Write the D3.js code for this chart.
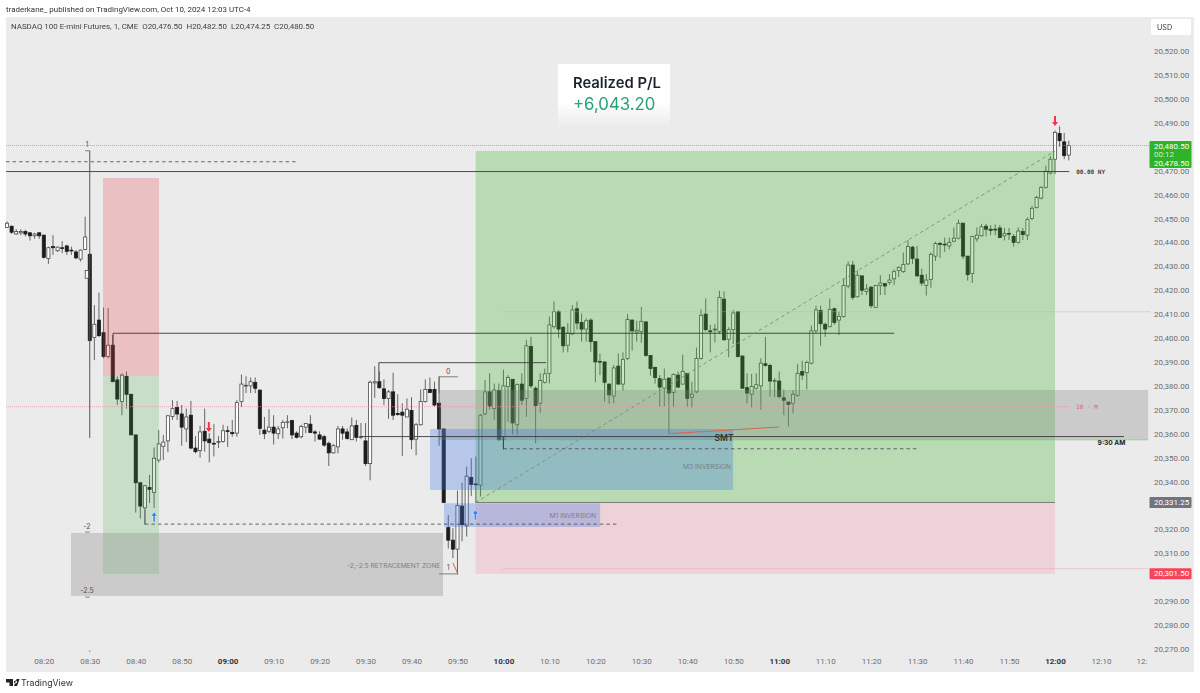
<!DOCTYPE html>
<html>
<head>
<meta charset="utf-8">
<script src="https://cdn.jsdelivr.net/npm/d3@7"></script>
<style>
  html, body { margin: 0; padding: 0; background: #fff; }
  svg { display: block; font-family: Inter, "Noto Sans", sans-serif; filter: blur(0.3px); }
</style>
</head>
<body>
<svg id="chart" width="1200" height="693"></svg>
<script>
// 1 minute candles [open, high, low, close], first one is 08:12
const firstMinute = 492;
const candles0812 = [
  [20446.25,20448.75,20446,20448],[20446.75,20447,20443.5,20444.25],[20443.5,20445.5,20443.25,20444.5],[20444,20445.5,20443,20444.5],
  [20444.5,20445.25,20442.5,20443.5],[20444,20444.25,20440.75,20442.75],[20442.75,20444,20441.5,20443.5],[20444,20444.25,20441.5,20442.75],
  [20443,20443.25,20433.25,20433.75],[20433.25,20438.25,20431,20437.75],[20438.25,20443,20434.75,20437.75],[20436.5,20438.25,20436,20438],
  [20437.75,20440.5,20435.5,20437.5],[20438.5,20439,20434.75,20436.25],[20436.75,20438.25,20434.75,20436.5],[20436,20436.75,20433,20433.5],
  [20433,20437,20432,20436.75],[20437,20450.75,20436.75,20442.25],[20435,20435.5,20398.5,20399],[20400.25,20413.75,20390.75,20405.75],
  [20407.5,20419,20400.5,20401],[20402.25,20412.75,20391.5,20392.25],[20392.25,20412.5,20391.5,20397],[20397,20401.25,20381.75,20381.75],
  [20382.5,20384,20372,20374.5],[20373.5,20385.25,20367.75,20384.5],[20384,20386,20370.5,20376.5],[20376.5,20376.5,20359.5,20359.5],
  [20359.5,20359.5,20327,20339.5],[20339.5,20339.5,20324.5,20329.75],[20329,20338.5,20322,20338.25],[20337.5,20342.75,20331,20336.75],
  [20335.5,20354.25,20329,20349.75],[20349,20361.5,20348,20355.75],[20354.75,20359.5,20349,20356.5],[20357,20367.75,20352.25,20367.5],
  [20367.25,20374,20365.75,20370.5],[20371,20373.75,20365.75,20368.25],[20368.25,20372,20355,20362.75],[20362,20370.5,20356.5,20367],
  [20367.75,20373.75,20353.5,20354],[20354,20359,20351.75,20352.5],[20353,20363.25,20350,20360.75],[20361,20370.5,20352.5,20357],
  [20357.75,20360.25,20348,20356.25],[20356,20364,20350.5,20355.75],[20356.5,20359,20354,20356.75],[20356.75,20363.75,20356.25,20361.25]
];
const candles0900 = [
  [20361.25,20363.25,20354.5,20361],[20360.5,20365.75,20358.75,20360],[20360.25,20374,20358.75,20373],[20373.5,20384.75,20371.25,20380.75],
  [20380,20384,20377,20380.25],[20380,20383.5,20377,20381.75],[20381.5,20383.5,20377,20379],[20378.25,20378.25,20359.5,20362.25],
  [20361.5,20367,20357.75,20360],[20361,20370.25,20360.25,20362.75],[20362.75,20367.75,20355.5,20360.25],[20360,20363.25,20357.75,20362],
  [20362.5,20365.75,20358,20364.75],[20364.75,20367.75,20362.25,20365],[20365.5,20365.75,20357.75,20359.5],[20360.25,20361,20358,20358.5],
  [20358.75,20363.75,20358,20363],[20362.75,20364.5,20360.25,20364.25],[20364,20367.75,20360.25,20360.5],[20360.75,20361.5,20356.75,20360.25],
  [20359.5,20361,20357.5,20357.75],[20358.75,20359.5,20354.5,20355.25],[20356,20356.75,20346.5,20352],[20352,20355.75,20351.75,20355],
  [20354.5,20363.25,20351.75,20362],[20362,20363.25,20357.5,20360.25],[20360.75,20362.25,20357.5,20358],[20357.5,20366.75,20357.5,20363.25],
  [20363.5,20365.75,20356.75,20358.5],[20358.5,20364.5,20357.75,20358.75],[20357,20364.5,20346.5,20347.5],[20347.5,20382.25,20340.5,20381.5],
  [20381.25,20388.25,20375,20381.75],[20381.75,20386,20378.75,20379.25],[20378.75,20382.75,20372,20374.75],[20374.75,20378.25,20366.25,20377.5],
  [20377.5,20385.5,20365.75,20367.75],[20368.5,20376.5,20367.5,20368],[20369,20372.75,20350.75,20367.75],[20367,20374.75,20367,20370.25],
  [20369.75,20375.25,20353.5,20357.5],[20357.75,20364.5,20351,20363.75],[20363.75,20378.5,20363.5,20373.5],[20373.5,20382.75,20373,20378.5],
  [20378.5,20383.5,20377,20377.25],[20378.5,20381.75,20371.25,20372],[20372.75,20384,20355,20362],[20362,20362,20331,20331.25],
  [20320.75,20326,20312,20315.5],[20315.5,20320.5,20308,20311.75],[20311.75,20336.25,20301.25,20330],[20329.75,20339.5,20315,20322],
  [20321.5,20346.25,20317,20342.25],[20341.75,20349.75,20334,20338.75],[20339,20350.5,20331.25,20338.75],[20338.5,20368.25,20333.75,20367.75],
  [20368.25,20382.5,20367.75,20377.5],[20377.5,20385.25,20370,20371.5],[20370.5,20381,20365.75,20378.25],[20378,20381,20357,20357.5]
];
const candles1000 = [
  [20357.5,20386.75,20353.25,20380],[20379.75,20384.5,20365,20383.5],[20382.75,20382.75,20359.75,20364.5],[20363.75,20381,20359.5,20380.5],
  [20380.75,20385.25,20372,20374],[20374.75,20399.25,20367,20396.75],[20396.5,20400.5,20379,20380],[20379,20379.75,20356,20371.75],
  [20372.75,20385.25,20368.75,20382.25],[20381.5,20387.25,20381,20385],[20385.25,20409,20381,20405.5],[20404.75,20415.25,20404,20411],
  [20411,20411.75,20400,20403.75],[20404.5,20405,20394,20396.75],[20397,20406.25,20394,20402],[20401.75,20413.75,20401.25,20411.75],
  [20412.25,20415.25,20403.5,20406.25],[20406.5,20410.25,20398.5,20403.75],[20403.75,20408.25,20398.5,20407.25],[20407.5,20408.25,20394.25,20398.5],
  [20398.5,20398.5,20381.5,20390],[20390.25,20393.5,20384.5,20390],[20390,20390.25,20373.5,20381.5],[20380.75,20381,20372.5,20376.25],
  [20375.75,20388.75,20372.75,20387.5],[20388.25,20393.5,20380.5,20380.75],[20380.75,20394,20378,20391],[20391.5,20410,20390.75,20407.75],
  [20407.5,20407.75,20394.75,20403],[20402.5,20407.25,20398.5,20403.25],[20402.75,20413,20398,20407],[20406.75,20406.75,20392.25,20392.75],
  [20392.75,20392.75,20384.25,20387.25],[20387.75,20388,20381,20383.5],[20383,20384.5,20371.25,20379.5],[20379,20387.25,20371.25,20382.75],
  [20383.25,20383.5,20360.25,20377],[20377.25,20385.25,20371.25,20384.75],[20384.5,20386,20379,20379.5],[20380.75,20393,20380.5,20386],
  [20385.25,20385.25,20371.25,20374.75],[20375.25,20381.75,20371,20376.5],[20377.5,20396,20377,20391.5],[20391.5,20412,20391,20409.5],
  [20410,20416.5,20402.75,20403.5],[20403,20405.5,20394,20402.75],[20403.5,20405.75,20398.25,20403.75],[20402.75,20419.75,20401.75,20417],
  [20416.25,20419.5,20399,20399.25],[20399.5,20404.5,20392,20403.5],[20403.5,20411.75,20397.5,20410.5],[20411,20411,20392,20392.25],
  [20392.5,20392.5,20379,20379],[20379.25,20385.25,20372.75,20377],[20376.5,20385,20371,20379.75],[20379,20385.25,20378.5,20380.5],
  [20380,20391.5,20370,20389.5],[20389.25,20400.5,20388,20388.5],[20388.5,20389.25,20375.5,20382],[20382,20383.25,20375.25,20382.25]
];
const candles1100 = [
  [20382,20386,20374.75,20375.5],[20375,20378.5,20367.75,20374],[20373.25,20373.25,20363,20372.25],[20372.75,20378.25,20368.5,20376.5],
  [20376,20389.25,20375.5,20385.25],[20386,20390.5,20382.5,20384.5],[20385.5,20390.5,20378.5,20389.75],[20389.5,20405.25,20389,20403],
  [20403,20413.5,20402,20411.75],[20411.5,20413.5,20396.75,20406],[20405.75,20406.5,20400.5,20403.75],[20404.75,20416.5,20404.5,20412],
  [20412.25,20412.75,20405.5,20406.5],[20407.5,20411,20401.25,20409],[20409,20425,20408.5,20422],[20421.75,20432,20420.75,20430.5],
  [20430.5,20432.25,20416,20417],[20417.25,20428.25,20417,20426.25],[20426,20426,20418,20420],[20419.5,20422.5,20418,20420.5],
  [20421.25,20421.75,20412.5,20413.5],[20412.75,20422.25,20412.5,20422],[20422,20426.25,20418,20423],[20422.75,20423,20418,20421.75],
  [20423.25,20426.75,20422.25,20424.25],[20424.75,20428.75,20422.25,20427.75],[20428.25,20430,20425.5,20429.5],[20427.75,20435.75,20427.25,20430.75],
  [20431,20441,20430.5,20438.25],[20438,20438.5,20431,20433.25],[20433,20438.5,20425.5,20426],[20426.25,20429,20421.75,20423],
  [20422,20426.75,20417.75,20424.25],[20424.5,20435.75,20421,20435],[20434.25,20440.25,20432.25,20439.5],[20439.5,20440.25,20433.5,20439.25],
  [20439.25,20442,20436,20439],[20438.5,20442,20437,20440],[20440.5,20446.25,20440,20441.75],[20441.75,20449.5,20441.25,20448],
  [20448,20448.25,20433,20434.25],[20434.25,20434.25,20424,20426.5],[20427,20442.75,20423,20442.5],[20441.5,20446.25,20440.25,20443],
  [20442.75,20447.75,20442.5,20446.5],[20446.75,20447.75,20442.5,20445.5],[20445.5,20447.25,20443,20445],[20445.5,20447.5,20443,20445.25],
  [20446,20447.25,20441.75,20442],[20442.75,20446,20440.75,20443.75],[20443.75,20446,20441,20443.5],[20442.5,20443.5,20438.25,20440],
  [20440,20446.25,20439.5,20444.75],[20444.5,20446,20441,20443.25],[20443,20450.5,20441,20449.5],[20450,20455.25,20449.25,20454.25],
  [20454.5,20459.5,20454.25,20458.75],[20458.5,20463.5,20458,20463],[20463,20472,20462.5,20469.75],[20469,20476,20468.5,20474.75]
];
const candles1200 = [
  [20474.75,20486.75,20468.5,20486],[20485.5,20488.5,20480,20482.5],[20482,20485.75,20474.75,20476.25],[20476.5,20482.5,20474.25,20480.5]
];
// half hidden candle next to the big 08:30 bar
const strayCandle = {minute: 509.35, ohlc: [20425, 20428.25, 20425, 20428.25]};

// 20,480 20,330 and 20,300 sit behind the price tags
const priceTicks = [20270,20280,20290,20310,20320,20340,20350,20360,20370,20380,20390,20400,20410,20420,20430,20440,20450,20460,20470,20490,20500,20510,20520];
const timeTicks = [500,510,520,530,540,550,560,570,580,590,600,610,620,630,640,650,660,670,680,690,700,710,720,730,740];

// drawn boxes: name, minute from, minute to, price low, price high
const zones = [
  ["shortStop", 512.88, 525.07, 20384.1, 20466.9],
  ["shortTarget", 512.88, 525.07, 20301.4, 20384.1],
  ["grey", 505.92, 586.86, 20292.2, 20318.5],
  ["longTarget", 593.94, 720, 20331.25, 20478.2],
  ["longStop", 593.94, 720, 20301.4, 20331.25],
  ["grey", 585.99, 740.26, 20357.4, 20378.3],
  ["blue", 584.03, 649.96, 20336.5, 20362],
  ["blue", 587.08, 621.03, 20321, 20330.9]
];
// drawn segments: kind, minute a, price a, minute b, price b
const segments = [
  ["priceDot", 491.8, 20480.5, 740.7, 20480.5],
  ["solid", 491.8, 20469.6, 723.1, 20469.6],
  ["dash", 491.8, 20473.7, 555.1, 20473.7],
  ["redDot", 491.8, 20371.3, 723.1, 20371.3],
  ["redDot", 600, 20411, 740.7, 20411],
  ["redDot", 600, 20303.6, 740.3, 20303.6],
  ["priceDot", 598, 20357.4, 740.3, 20357.4],
  ["thin", 593.94, 20331.25, 720, 20331.25],
  ["solid", 515.06, 20402, 685, 20402],
  ["solid", 515.06, 20402, 515.06, 20397.1],
  ["solid", 572.9, 20389.7, 609.3, 20389.7],
  ["solid", 572.9, 20389.7, 572.9, 20382],
  ["thin", 586, 20383.8, 590.1, 20383.8],
  ["thin", 586, 20383.8, 586, 20377],
  ["solid", 568.8, 20358.8, 735, 20358.8],
  ["solid", 600, 20358.8, 600, 20353.7],
  ["dash", 600, 20353.7, 690.2, 20353.7],
  ["thin", 522, 20328.1, 522, 20322.2],
  ["dash", 522, 20322.2, 624.9, 20322.2],
  ["thin", 586, 20301.4, 590.1, 20301.4],
  ["thin", 509, 20478.3, 510, 20478.3],
  ["fibLine", 510, 20478.3, 510, 20358.2],
  ["thin", 509, 20318.9, 510, 20318.9],
  ["thin", 509, 20291.7, 510, 20291.7],
  ["diag", 593.94, 20331.25, 720, 20478.2],
  ["red", 635.8, 20360, 660, 20362.8],
  ["red", 589, 20306, 590.1, 20301.4]
];
// text on the chart: text, minute, price, kind
const notes = [
  ["1", 509.4, 20480.9, "fib"], ["-2", 509.4, 20321.2, "fib"], ["-2.5", 509.4, 20294.4, "fib"],
  ["0", 588, 20386, "fib"], ["1", 588, 20304, "fib"],
  ["-2,-2.5 RETRACEMENT ZONE", 576.1, 20304.9, "zone"],
  ["M3 INVERSION", 644.3, 20346.4, "zone"], ["M1 INVERSION", 615.1, 20325.7, "zone"],
  ["SMT", 648, 20358.2, "smt"], ["9:30 AM", 732.3, 20356.4, "bold"],
  ["00.00 NY", 724.6, 20469.6, "ny"], ["10 · M", 724.6, 20371.3, "tenm"],
  ["*", 510, 20268.5, "tinyRed"]
];
// arrows: minute, tip price, direction
const arrows = [
  [524, 20327.3, "up"], [593.9, 20328.1, "up"],
  [535.9, 20360.7, "down"], [720, 20488.6, "down"]
];

const candles = [...candles0812, ...candles0900, ...candles1000, ...candles1100, ...candles1200]
  .map((c, i) => ({minute: firstMinute + i, ohlc: c}));
candles.push(strayCandle);

const x = d3.scaleLinear().domain([500, 720]).range([43.8, 1055]);
const y = d3.scaleLinear().domain([20270, 20520]).range([649, 51]);

const svg = d3.select("#chart");
const defs = svg.append("defs");
const grad = defs.append("linearGradient").attr("id", "pnlFade").attr("x1", 0).attr("x2", 0).attr("y1", 0).attr("y2", 1);
grad.append("stop").attr("offset", "0.62").attr("stop-color", "#fff");
grad.append("stop").attr("offset", "1").attr("stop-color", "#ebebeb");

// panel
svg.append("rect").attr("x", 6).attr("y", 17).attr("width", 1188).attr("height", 655).attr("fill", "#ebebeb");

// candles go under the boxes, the boxes tint them
const candleG = svg.append("g");
candleG.selectAll("line").data(candles).join("line")
  .attr("x1", d => x(d.minute)).attr("x2", d => x(d.minute))
  .attr("y1", d => y(d.ohlc[1])).attr("y2", d => y(d.ohlc[2]))
  .attr("stroke", "#5e5e5e").attr("stroke-width", 0.95);
candleG.selectAll("rect").data(candles).join("rect")
  .attr("x", d => x(d.minute) - 1.55)
  .attr("width", 3.1)
  .attr("y", d => y(Math.max(d.ohlc[0], d.ohlc[3])))
  .attr("height", d => Math.max(0.8, Math.abs(y(d.ohlc[0]) - y(d.ohlc[3]))))
  .attr("fill", d => d.ohlc[3] >= d.ohlc[0] ? "#fff" : "#1c1c1c")
  .attr("stroke", d => d.ohlc[3] >= d.ohlc[0] ? "#4a4a4a" : "#1c1c1c")
  .attr("stroke-width", 0.8);

// boxes
const zoneFill = {
  shortStop: "rgba(235,64,76,0.25)", shortTarget: "rgba(65,170,60,0.2)",
  longTarget: "rgba(65,181,52,0.3)", longStop: "rgba(250,75,100,0.15)",
  grey: "rgba(130,130,130,0.3)", blue: "rgba(60,115,230,0.3)"
};
svg.append("g").selectAll("rect").data(zones).join("rect")
  .attr("x", d => x(d[1])).attr("width", d => x(d[2]) - x(d[1]))
  .attr("y", d => y(d[4])).attr("height", d => y(d[3]) - y(d[4]))
  .attr("fill", d => zoneFill[d[0]]);

// lines
const lineStyle = {
  solid: {stroke: "#3a3a3a", width: 0.9},
  thin: {stroke: "#666", width: 0.8},
  fibLine: {stroke: "#555", width: 1},
  dash: {stroke: "#444", width: 0.8, dash: "3.5 3"},
  diag: {stroke: "#7d8d80", width: 0.9, dash: "3.5 3"},
  priceDot: {stroke: "#63c75c", width: 0.8, dash: "1 1"},
  redDot: {stroke: "#e59aa2", width: 0.8, dash: "1 1"},
  red: {stroke: "#d9654a", width: 1}
};
svg.append("g").selectAll("line").data(segments).join("line")
  .attr("x1", d => x(d[1])).attr("y1", d => y(d[2]))
  .attr("x2", d => x(d[3])).attr("y2", d => y(d[4]))
  .attr("stroke", d => lineStyle[d[0]].stroke)
  .attr("stroke-width", d => lineStyle[d[0]].width)
  .attr("stroke-dasharray", d => lineStyle[d[0]].dash || null);

// arrows
svg.append("g").selectAll("path").data(arrows).join("path")
  .attr("transform", d => `translate(${x(d[0])},${y(d[1])})${d[2] === "down" ? " rotate(180)" : ""}`)
  .attr("d", "M0,0L3,4H1V10H-1V4H-3Z")
  .attr("fill", d => d[2] === "up" ? "#2f7bff" : "#f23645")
  .attr("stroke", d => d[2] === "up" ? "#fff" : "none").attr("stroke-width", 0.4);

// notes on the chart
const noteStyle = {
  fib: {size: 7, fill: "#555", anchor: "middle"},
  zone: {size: 6.7, fill: "#808080", anchor: "middle"},
  smt: {size: 8.5, fill: "#2e3a2e", anchor: "middle", weight: 600},
  bold: {size: 6.6, fill: "#222", anchor: "middle", weight: 700},
  ny: {size: 6, fill: "#444", anchor: "start", weight: 700, family: "'DejaVu Sans Mono'"},
  tenm: {size: 6, fill: "#e0606e", anchor: "start", family: "'DejaVu Sans Mono'"},
  tinyRed: {size: 6, fill: "#f0808a", anchor: "middle"}
};
svg.append("g").selectAll("text").data(notes).join("text")
  .text(d => d[0])
  .attr("x", d => x(d[1])).attr("y", d => y(d[2]))
  .attr("dy", "0.35em")
  .attr("font-size", d => noteStyle[d[3]].size)
  .attr("fill", d => noteStyle[d[3]].fill)
  .attr("text-anchor", d => noteStyle[d[3]].anchor)
  .attr("font-weight", d => noteStyle[d[3]].weight || 400)
  .attr("font-family", d => noteStyle[d[3]].family || null);

// axes
const rightAxis = d3.axisRight(y).tickValues(priceTicks).tickSize(0).tickPadding(0).tickFormat(d3.format(",.2f"));
const rightG = svg.append("g").attr("transform", "translate(1154,0)").call(rightAxis);
const hhmm = m => d3.format("02")(Math.floor(m / 60)) + ":" + d3.format("02")(m % 60);
const bottomAxis = d3.axisBottom(x).tickValues(timeTicks).tickSize(0).tickPadding(0).tickFormat(hhmm);
const bottomG = svg.append("g").attr("transform", "translate(0,658.5)").call(bottomAxis);
[rightG, bottomG].forEach(g => {
  g.select(".domain").remove();
  g.selectAll("text").attr("font-size", 8).attr("font-family", "Roboto").attr("fill", "#6e6e6e");
});
bottomG.selectAll("text")
  .attr("font-weight", d => d % 60 === 0 ? 700 : 400)
  .attr("fill", d => d % 60 === 0 ? "#333" : "#6e6e6e");
// axis labels past this edge are cut off like in the app
bottomG.selectAll(".tick").filter(d => d > 735).select("text").attr("text-anchor", "end").attr("dx", 0).text("12:");

// price tags on the axis
const tagPrice = d3.format(",.2f");
function tag(price, fill) {
  const g = svg.append("g").attr("transform", `translate(1149.5,${y(price)})`);
  g.append("rect").attr("y", -5.5).attr("width", 42).attr("height", 11).attr("rx", 1).attr("fill", fill);
  g.append("text").text(tagPrice(price)).attr("x", 4.5).attr("dy", "0.35em")
    .attr("font-size", 8).attr("font-family", "Roboto").attr("fill", "#fff");
}
tag(20331.25, "#72737f");
tag(20301.5, "#f7435b");

const liveG = svg.append("g").attr("transform", "translate(1149.5,141)").attr("font-family", "Roboto").attr("font-size", 8);
liveG.append("rect").attr("width", 42).attr("height", 27).attr("rx", 1).attr("fill", "#2eb32a");
liveG.append("text").text(tagPrice(20480.5)).attr("x", 4.5).attr("y", 7.5).attr("fill", "#fff");
liveG.append("text").text("00:12").attr("x", 4.5).attr("y", 15.5).attr("fill", "#cfeecb");
liveG.append("text").text(tagPrice(20478.5)).attr("x", 4.5).attr("y", 24.5).attr("fill", "#fff");

// USD button
svg.append("rect").attr("x", 1151).attr("y", 19).attr("width", 40).attr("height", 16).attr("rx", 2).attr("fill", "#fff");
svg.append("text").text("USD").attr("x", 1157).attr("y", 29.5).attr("font-size", 7.2).attr("fill", "#333");

// realized P/L card
svg.append("rect").attr("x", 558).attr("y", 64).attr("width", 112).attr("height", 62).attr("fill", "url(#pnlFade)");
svg.append("text").text("Realized P/L").attr("x", 573).attr("y", 88).attr("font-size", 14.8)
  .attr("font-weight", 600).attr("fill", "#1e2530");
svg.append("text").text("+6,043.20").attr("x", 573).attr("y", 109.5).attr("font-size", 16.8)
  .attr("fill", "#26a17b");

// header and footer
svg.append("text").text("traderkane_ published on TradingView.com, Oct 10, 2024 12:03 UTC-4")
  .attr("x", 6).attr("y", 12.2).attr("font-family", "Roboto").attr("font-size", 7.95).attr("fill", "#333");
svg.append("text").text("NASDAQ 100 E-mini Futures, 1, CME  O20,476.50  H20,482.50  L20,474.25  C20,480.50")
  .attr("x", 11).attr("y", 29).attr("font-family", "Roboto").attr("font-size", 7.95).attr("fill", "#444").attr("xml:space", "preserve");

svg.append("path").attr("d", "M6,679H13V686H9.5V682.5H6ZM15.5,680.5a1.5,1.5 0 1,0 .01,0ZM14,686L16.6,679H19.6L17,686Z").attr("fill", "#222");
svg.append("text").text("TradingView").attr("x", 21).attr("y", 685.5).attr("font-size", 8.8).attr("fill", "#333");
</script>
</body>
</html>
